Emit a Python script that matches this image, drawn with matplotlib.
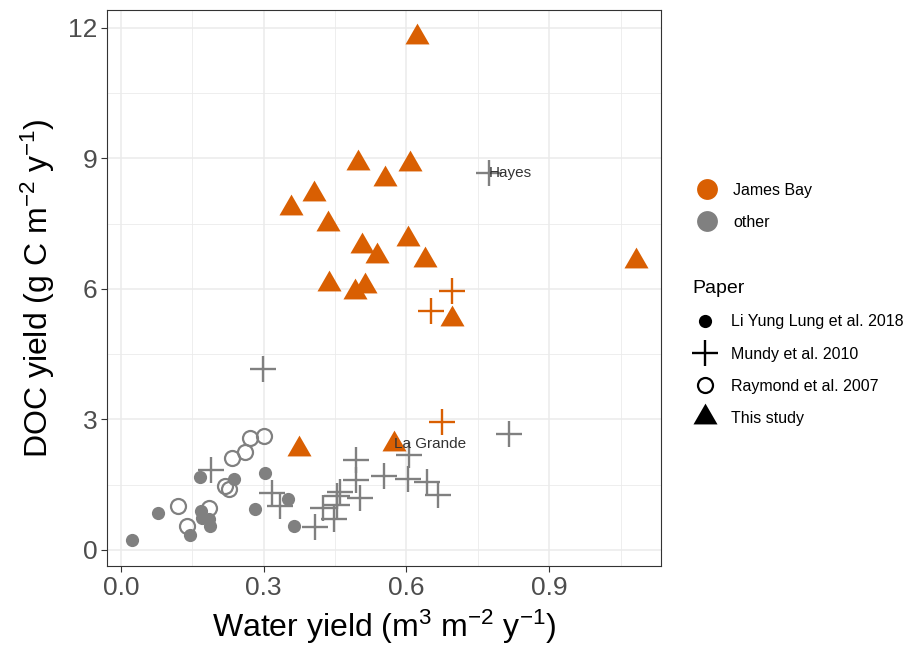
import numpy as np
import matplotlib
matplotlib.use("Agg")
import matplotlib.pyplot as plt
from matplotlib.lines import Line2D

plt.rcParams['font.family'] = ['Liberation Sans', 'DejaVu Sans']
plt.rcParams['mathtext.fontset'] = 'custom'
plt.rcParams['mathtext.rm'] = 'Liberation Sans'
plt.rcParams['mathtext.it'] = 'Liberation Sans'
plt.rcParams['mathtext.default'] = 'regular'

ORANGE = '#D95F02'
GREY = '#808080'

# This study (James Bay) - triangles
study_x = [0.623, 0.499, 0.608, 0.554, 0.406, 0.357, 0.436, 0.507, 0.538, 0.604,
           0.640, 0.438, 0.513, 0.491, 0.695, 1.082, 0.573, 0.375]
study_y = [11.80, 8.89, 8.87, 8.52, 8.18, 7.85, 7.49, 6.99, 6.76, 7.14,
           6.67, 6.11, 6.07, 5.92, 5.30, 6.63, 2.44, 2.31]

# Mundy et al. 2010, James Bay rivers
mundy_jb_x = [0.695, 0.652, 0.674]
mundy_jb_y = [5.95, 5.50, 2.93]

# Mundy et al. 2010, other rivers
mundy_x = [0.774, 0.298, 0.190, 0.317, 0.334, 0.408, 0.425, 0.447, 0.455, 0.455,
           0.460, 0.494, 0.494, 0.503, 0.553, 0.604, 0.606, 0.643, 0.667, 0.816]
mundy_y = [8.66, 4.16, 1.83, 1.30, 1.00, 0.53, 0.96, 0.71, 1.03, 1.23,
           1.34, 1.61, 2.07, 1.19, 1.69, 1.63, 2.19, 1.56, 1.26, 2.66]

# Li Yung Lung et al. 2018
li_x = [0.024, 0.078, 0.146, 0.166, 0.168, 0.170, 0.184, 0.186, 0.238, 0.303,
        0.282, 0.350, 0.364]
li_y = [0.22, 0.86, 0.35, 1.68, 0.90, 0.73, 0.71, 0.55, 1.64, 1.77,
        0.94, 1.17, 0.56]

# Raymond et al. 2007
ray_x = [0.120, 0.138, 0.184, 0.219, 0.226, 0.233, 0.261, 0.271, 0.300]
ray_y = [1.02, 0.55, 0.96, 1.46, 1.40, 2.11, 2.26, 2.57, 2.62]

labels = {'Hayes': (0.774, 8.66), 'La Grande': (0.573, 2.44)}

tri = [(-1, -0.577), (1, -0.577), (0, 1.155)]

fig = plt.figure(figsize=(9.18, 6.46), dpi=100)
ax = fig.add_axes([0.1166, 0.1238, 0.6034, 0.8607])

ax.plot(li_x, li_y, 'o', ms=9.5, color=GREY, mec='none')
ax.plot(ray_x, ray_y, 'o', ms=10.8, mfc='none', mec=GREY, mew=1.6)
ax.plot(mundy_x, mundy_y, '+', ms=19, color=GREY, mew=1.7)
ax.plot(mundy_jb_x, mundy_jb_y, '+', ms=19, color=ORANGE, mew=1.7)
ax.plot(study_x, study_y, marker=tri, ls='none', ms=20, color=ORANGE, mec='none')

for name, (lx, ly) in labels.items():
    ax.text(lx, ly, name, fontsize=11, color='#333333', ha='left', va='center')

ax.set_xlim(-0.0294, 1.135)
ax.set_ylim(-0.37, 12.41)
ax.set_xticks([0.0, 0.3, 0.6, 0.9])
ax.set_xticklabels(['0.0', '0.3', '0.6', '0.9'])
ax.set_yticks([0, 3, 6, 9, 12])
ax.set_xticks([0.15, 0.45, 0.75, 1.05], minor=True)
ax.set_yticks([1.5, 4.5, 7.5, 10.5], minor=True)
ax.grid(which='major', color='#EBEBEB', lw=1.1)
ax.grid(which='minor', color='#EBEBEB', lw=0.6)
ax.set_axisbelow(True)
ax.tick_params(which='major', labelsize=19, labelcolor='#4D4D4D', color='#333333',
               length=4, width=0.8, pad=3)
ax.tick_params(which='minor', length=0)
for s in ax.spines.values():
    s.set_color('#333333')
    s.set_linewidth(0.8)

ax.set_xlabel('Water yield (m$^{3}$ m$^{-2}$ y$^{-1}$)', fontsize=23, labelpad=6)
ax.set_ylabel('DOC yield (g C m$^{-2}$ y$^{-1}$)', fontsize=23, labelpad=8)

# colour legend
h1 = [Line2D([], [], marker='o', ls='none', ms=15, color=ORANGE, mec='none'),
      Line2D([], [], marker='o', ls='none', ms=15, color=GREY, mec='none')]
leg1 = fig.legend(h1, ['James Bay', 'other'], loc='upper left',
                  bbox_to_anchor=(0.756, 0.717), frameon=False, fontsize=11.5,
                  handlelength=1.6, handletextpad=0.84, labelspacing=1.06,
                  borderaxespad=0, borderpad=0)

# shape legend
h2 = [Line2D([], [], marker='o', ls='none', ms=9.5, color='black', mec='none'),
      Line2D([], [], marker='+', ls='none', ms=19, color='black', mew=1.7),
      Line2D([], [], marker='o', ls='none', ms=10.8, mfc='none', mec='black', mew=1.6),
      Line2D([], [], marker=tri, ls='none', ms=20, color='black', mec='none')]
leg2 = fig.legend(h2, ['Li Yung Lung et al. 2018', 'Mundy et al. 2010',
                       'Raymond et al. 2007', 'This study'],
                  loc='upper left', bbox_to_anchor=(0.754, 0.566), frameon=False,
                  fontsize=11.5, title='Paper', title_fontsize=14,
                  handlelength=1.6, handletextpad=0.84, labelspacing=1.07,
                  borderaxespad=0, borderpad=0)
leg2._legend_box.align = 'left'

fig.savefig('out.png', dpi=100)
